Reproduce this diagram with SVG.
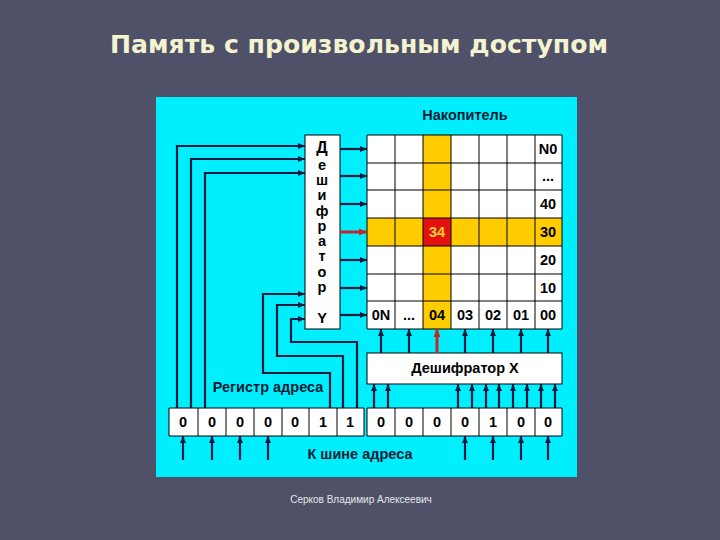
<svg xmlns="http://www.w3.org/2000/svg" width="720" height="540" viewBox="0 0 720 540">
<style>
.title{font-family:"DejaVu Sans","Liberation Sans",sans-serif;font-weight:bold;font-size:24px;fill:#f3f3cf}
.foot{font-family:"Liberation Sans",Arial,sans-serif;font-size:10px;fill:#e6e6e6}
.lbl{font-family:"Liberation Sans",Arial,sans-serif;font-weight:bold;font-size:14.5px;fill:#0b1b33}
.cell{font-family:"Liberation Sans",Arial,sans-serif;font-weight:bold;font-size:14.5px;fill:#000}
.box{fill:#fff;stroke:#000;stroke-width:1}
.grid{fill:none;stroke:#000;stroke-width:1}
.arr{fill:none;stroke:#0b1b40;stroke-width:2.2;marker-end:url(#ah)}
.arrR{fill:none;stroke:#c0282a;stroke-width:3;marker-end:url(#ahR)}
</style>
<defs>
<marker id="ah" markerUnits="userSpaceOnUse" markerWidth="8" markerHeight="8" refX="7" refY="4" orient="auto"><path d="M0,1 L7,4 L0,7 Z" fill="#0b1b40"/></marker>
<marker id="ahR" markerUnits="userSpaceOnUse" markerWidth="9" markerHeight="9" refX="8" refY="4.5" orient="auto"><path d="M0,1 L8,4.5 L0,8 Z" fill="#c0282a"/></marker>
</defs>
<rect x="0" y="0" width="720" height="540" fill="#4e5168"/>
<text class="title" x="359" y="53" text-anchor="middle" textLength="498" lengthAdjust="spacingAndGlyphs">Память с произвольным доступом</text>
<rect x="156" y="97" width="421" height="380" fill="#00efff"/>
<text class="lbl" x="465" y="120" text-anchor="middle">Накопитель</text>

<g id="matrix">
<rect x="367" y="135" width="195" height="194" fill="#fff"/>
<rect x="423" y="135" width="28" height="194" fill="#ffcc00"/>
<rect x="367" y="218" width="195" height="28" fill="#ffcc00"/>
<rect x="423" y="218" width="28" height="28" fill="#e4120e"/>
<path class="grid" d="M367,135H562V329H367Z M395,135V329 M423,135V329 M451,135V329 M479,135V329 M507,135V329 M535,135V329 M367,163H562 M367,190H562 M367,218H562 M367,246H562 M367,274H562 M367,301H562"/>
<text class="cell" x="437" y="237" text-anchor="middle" style="fill:#ffd23a">34</text>
<g text-anchor="middle">
<text class="cell" x="548" y="154">N0</text>
<text class="cell" x="548" y="181">...</text>
<text class="cell" x="548" y="209">40</text>
<text class="cell" x="548" y="237">30</text>
<text class="cell" x="548" y="265">20</text>
<text class="cell" x="548" y="293">10</text>
<text class="cell" x="381" y="320">0N</text>
<text class="cell" x="409" y="320">...</text>
<text class="cell" x="437" y="320">04</text>
<text class="cell" x="465" y="320">03</text>
<text class="cell" x="493" y="320">02</text>
<text class="cell" x="521" y="320">01</text>
<text class="cell" x="548" y="320">00</text>
</g>
</g>

<g id="decoderY">
<rect class="box" x="305" y="135" width="35" height="194"/>
<g text-anchor="middle">
<text class="cell" x="322" y="153" style="font-size:16px">Д</text>
<text class="cell" x="322" y="170">е</text>
<text class="cell" x="322" y="185">ш</text>
<text class="cell" x="322" y="200">и</text>
<text class="cell" x="322" y="216">ф</text>
<text class="cell" x="322" y="231">р</text>
<text class="cell" x="322" y="246">а</text>
<text class="cell" x="322" y="261">т</text>
<text class="cell" x="322" y="277">о</text>
<text class="cell" x="322" y="292">р</text>
<text class="cell" x="322" y="323">Y</text>
</g>
</g>

<g id="decoderX">
<rect class="box" x="367" y="353" width="195" height="31"/>
<text class="cell" x="465" y="373" text-anchor="middle">Дешифратор X</text>
</g>

<g id="register">
<text class="lbl" x="268" y="392" text-anchor="middle">Регистр адреса</text>
<path class="grid" style="fill:#fff" d="M169,408H364V436H169Z"/>
<path class="grid" style="fill:#fff" d="M367,408H562V436H367Z"/>
<path class="grid" d="M198,408V436 M226,408V436 M254,408V436 M282,408V436 M309,408V436 M337,408V436 M395,408V436 M423,408V436 M451,408V436 M479,408V436 M507,408V436 M535,408V436"/>
<g text-anchor="middle">
<text class="cell" x="183" y="427">0</text>
<text class="cell" x="212" y="427">0</text>
<text class="cell" x="240" y="427">0</text>
<text class="cell" x="268" y="427">0</text>
<text class="cell" x="295" y="427">0</text>
<text class="cell" x="323" y="427">1</text>
<text class="cell" x="350" y="427">1</text>
<text class="cell" x="381" y="427">0</text>
<text class="cell" x="409" y="427">0</text>
<text class="cell" x="437" y="427">0</text>
<text class="cell" x="465" y="427">0</text>
<text class="cell" x="493" y="427">1</text>
<text class="cell" x="521" y="427">0</text>
<text class="cell" x="548" y="427">0</text>
</g>
<text class="lbl" x="360" y="459" text-anchor="middle">К шине адреса</text>
</g>

<g id="connectors">
<path class="arr" d="M177,408V146H305"/>
<path class="arr" d="M191,408V159H305"/>
<path class="arr" d="M205,408V173H305"/>
<path class="arr" d="M330,408V373H263V294H305"/>
<path class="arr" d="M343,408V356H277V305H305"/>
<path class="arr" d="M357,408V342H291V319H305"/>
<path class="arr" d="M340,149H367"/>
<path class="arr" d="M340,176H367"/>
<path class="arr" d="M340,204H367"/>
<path class="arrR" d="M340,232H367"/>
<path class="arr" d="M340,260H367"/>
<path class="arr" d="M340,288H367"/>
<path class="arr" d="M340,315H367"/>
<path class="arr" d="M381,353V329"/>
<path class="arr" d="M409,353V329"/>
<path class="arrR" d="M437,353V329"/>
<path class="arr" d="M465,353V329"/>
<path class="arr" d="M493,353V329"/>
<path class="arr" d="M521,353V329"/>
<path class="arr" d="M548,353V329"/>
<path class="arr" d="M374,408V384"/>
<path class="arr" d="M388,408V384"/>
<path class="arr" d="M458,408V384"/>
<path class="arr" d="M472,408V384"/>
<path class="arr" d="M486,408V384"/>
<path class="arr" d="M499,408V384"/>
<path class="arr" d="M513,408V384"/>
<path class="arr" d="M527,408V384"/>
<path class="arr" d="M541,408V384"/>
<path class="arr" d="M555,408V384"/>
<path class="arr" d="M183,460V436"/>
<path class="arr" d="M212,460V436"/>
<path class="arr" d="M240,460V436"/>
<path class="arr" d="M268,460V436"/>
<path class="arr" d="M465,460V436"/>
<path class="arr" d="M493,460V436"/>
<path class="arr" d="M521,460V436"/>
<path class="arr" d="M548,460V436"/>
</g>
<text class="foot" x="361" y="503" text-anchor="middle">Серков Владимир Алексеевич</text>
</svg>
